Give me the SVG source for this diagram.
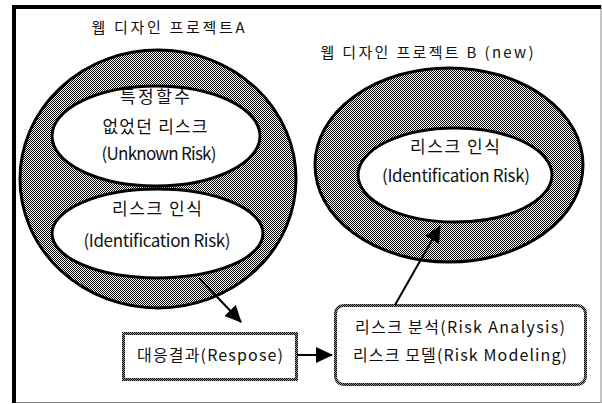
<svg xmlns="http://www.w3.org/2000/svg" width="602" height="404" viewBox="0 0 602 404">
<defs>
<pattern id="dither" width="2" height="2" patternUnits="userSpaceOnUse"><rect width="2" height="2" fill="#fff"/><rect width="1" height="1" fill="#000"/><rect x="1" y="1" width="1" height="1" fill="#000"/></pattern>
<pattern id="dots" width="2" height="2" patternUnits="userSpaceOnUse"><rect width="2" height="2" fill="#999"/><rect width="1" height="1" fill="#000"/><rect x="1" y="1" width="1" height="1" fill="#000"/></pattern>
<marker id="ah" markerWidth="17" markerHeight="16" refX="16" refY="8" orient="auto" markerUnits="userSpaceOnUse"><path d="M0,0 L17,8 L0,16 z" fill="#000"/></marker>
<style>
text{font-family:"Noto Sans CJK KR","Noto Sans",sans-serif;fill:#111;text-anchor:middle}
.t{font-size:15px}
.e{font-size:17px}
.b{font-size:16px}
.outer{fill:url(#dither);stroke:#000;stroke-width:3}
.inner{fill:#fff;stroke:#000;stroke-width:3}
.box{fill:#fff;stroke:url(#dots);stroke-width:3}
.conn{stroke:#000;stroke-width:2;fill:none;marker-end:url(#ah)}
</style>
</defs>
<rect x="0" y="0" width="602" height="404" fill="#fff"/>
<g id="frame">
<rect x="12.5" y="5.5" width="588.5" height="397" fill="#fff" stroke="#888" stroke-width="1"/>
<rect x="12" y="5" width="4" height="398" fill="#000"/>
<rect x="12" y="5" width="589" height="4" fill="#000"/>
</g>
<g id="projectA">
<text class="t" x="168" y="33" textLength="153" lengthAdjust="spacing">웹 디자인 프로젝트A</text>
<ellipse class="outer" cx="158" cy="179" rx="138" ry="129"/>
</g>
<g id="unknownRisk">
<ellipse class="inner" cx="156" cy="136" rx="104" ry="50"/>
<text class="e" x="155" y="103" textLength="70" lengthAdjust="spacing">특정할수</text>
<text class="e" x="155" y="133" textLength="105" lengthAdjust="spacing">없었던 리스크</text>
<text class="e" x="159" y="160" textLength="115" lengthAdjust="spacing">(Unknown Risk)</text>
</g>
<g id="identA">
<ellipse class="inner" cx="157.5" cy="233.5" rx="105.5" ry="44.5"/>
<text class="e" x="157" y="215" textLength="90" lengthAdjust="spacing">리스크 인식</text>
<text class="e" x="157" y="247" textLength="147" lengthAdjust="spacing">(Identification Risk)</text>
</g>
<g id="projectB">
<text class="t" x="427" y="58" textLength="213" lengthAdjust="spacing">웹 디자인 프로젝트 B (new)</text>
<ellipse class="outer" cx="449" cy="165" rx="134" ry="97"/>
</g>
<g id="identB">
<ellipse class="inner" cx="455" cy="175" rx="97" ry="47"/>
<text class="e" x="455" y="153" textLength="90" lengthAdjust="spacing">리스크 인식</text>
<text class="e" x="456" y="182" textLength="148" lengthAdjust="spacing">(Identification Risk)</text>
</g>
<g id="response">
<rect class="box" x="123.5" y="333.5" width="173" height="46"/>
<text class="b" x="210" y="361" textLength="146" lengthAdjust="spacing">대응결과(Respose)</text>
</g>
<g id="analysis">
<rect class="box" x="335.5" y="305.5" width="250" height="79" rx="8"/>
<text class="b" x="460" y="333" textLength="210" lengthAdjust="spacing">리스크 분석(Risk Analysis)</text>
<text class="b" x="460" y="361" textLength="214" lengthAdjust="spacing">리스크 모델(Risk Modeling)</text>
</g>
<g id="connectors">
<line class="conn" x1="199" y1="278" x2="241" y2="322"/>
<line class="conn" x1="297" y1="355" x2="332" y2="355"/>
<line class="conn" x1="395" y1="305" x2="440" y2="226"/>
</g>
</svg>
